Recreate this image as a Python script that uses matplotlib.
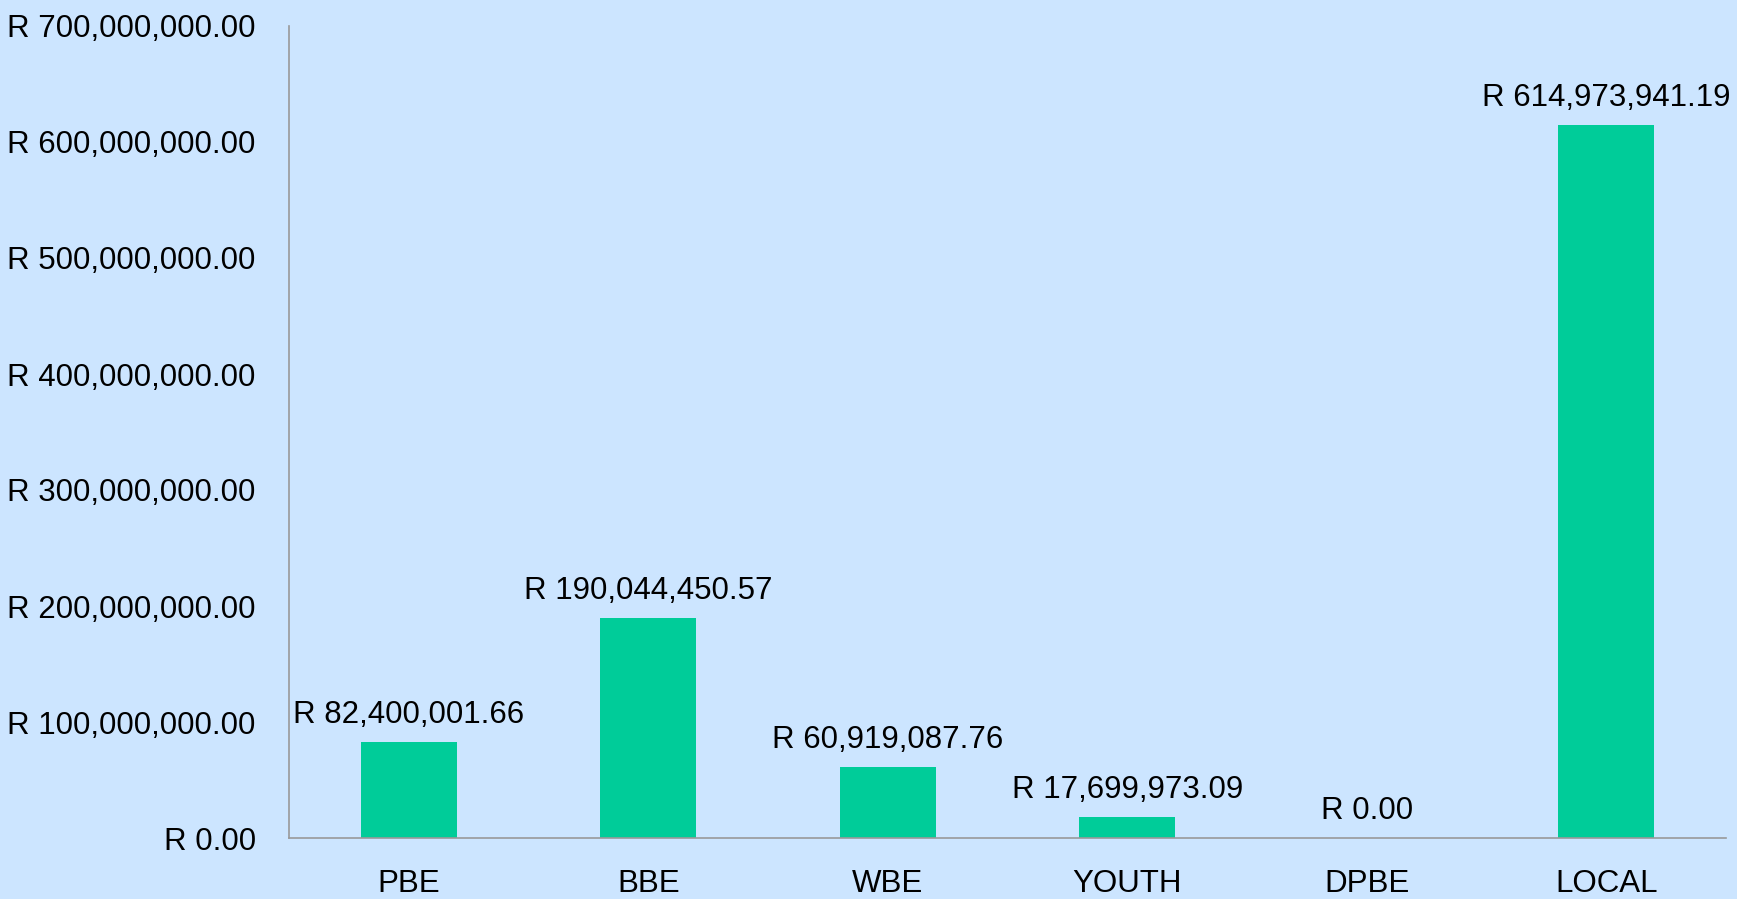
import matplotlib
matplotlib.use("Agg")
import matplotlib.pyplot as plt
import numpy as np

# ------------------ Data ------------------
categories = ["PBE", "BBE", "WBE", "YOUTH", "DPBE", "LOCAL"]
values = [82400001.66, 190044450.57, 60919087.76, 17699973.09, 0.00, 614973941.19]
yticks = [0, 100e6, 200e6, 300e6, 400e6, 500e6, 600e6, 700e6]

BG = "#cce5ff"
BAR = "#00cc99"

plt.rcParams["font.family"] = ["Liberation Sans", "DejaVu Sans"]
FS = 22.5

def rand(v):
    return f"R {v:,.2f}"

fig = plt.figure(figsize=(17.37, 8.99), dpi=100, facecolor=BG)
W, H = 1737, 899
ax = fig.add_axes([289 / W, 1 - 838 / H, (1726 - 289) / W, (838 - 26) / H])
ax.set_facecolor(BG)

x = np.arange(len(categories))
ax.bar(x, values, width=0.4, color=BAR, zorder=2)

for xi, v in zip(x, values):
    ax.annotate(rand(v), (xi, v), xytext=(0, 19), textcoords="offset pixels",
                ha="center", va="baseline", fontsize=FS, color="black",
                annotation_clip=False)

ax.set_xlim(-0.5, len(categories) - 0.5)
ax.set_ylim(0, 700e6)
ax.set_xticks(x)
ax.set_xticklabels(categories, fontsize=FS)
ax.set_yticks(yticks)
ax.set_yticklabels([rand(t) for t in yticks], fontsize=FS)
ax.tick_params(axis="both", length=0)
ax.tick_params(axis="y", pad=24)
ax.tick_params(axis="x", pad=22)

for s in ["top", "right"]:
    ax.spines[s].set_visible(False)
for s in ["left", "bottom"]:
    ax.spines[s].set_color("#999999")
    ax.spines[s].set_linewidth(1.2)

fig.savefig("out.png", dpi=100, facecolor=BG)
